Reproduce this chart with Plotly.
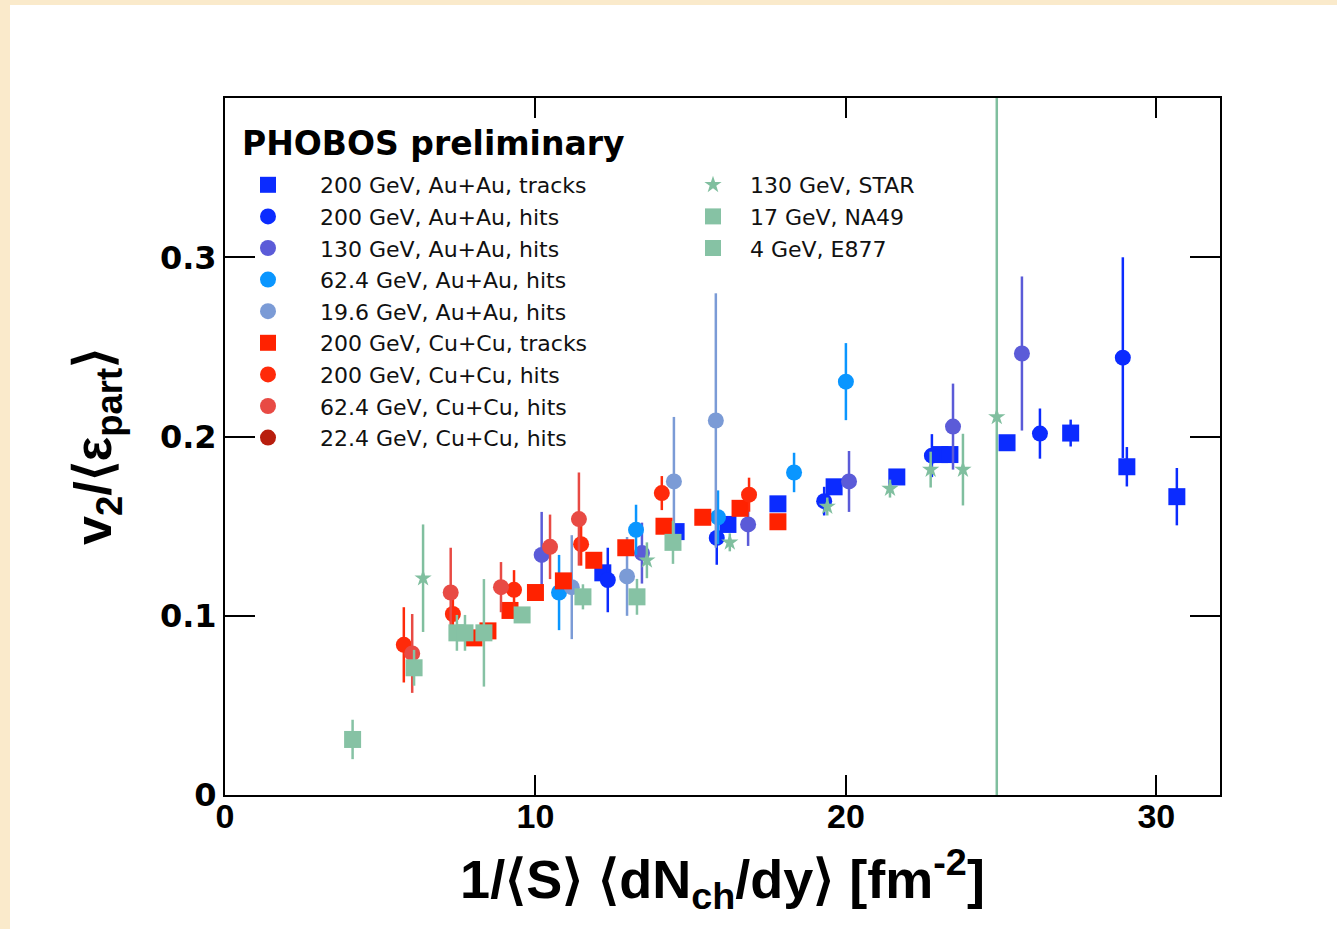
import plotly.graph_objects as go

# ---------------- data ----------------
auau200_trk_x = [12.17, 14.53, 16.20, 17.81, 19.62, 21.64, 23.03, 23.35, 25.19, 27.24, 29.05, 30.66]
auau200_trk_y = [0.124, 0.147, 0.151, 0.1625, 0.172, 0.1775, 0.190, 0.190, 0.1966, 0.202, 0.1832, 0.1665]
auau200_trk_e = [0.004, 0.004, 0.004, 0.004, 0.004, 0.004, 0.004, 0.004, 0.004, 0.0075, 0.011, 0.016]

auau200_hit_x = [12.33, 15.84, 19.30, 22.77, 26.25, 28.92]
auau200_hit_y = [0.120, 0.1435, 0.164, 0.1894, 0.2017, 0.2441]
auau200_hit_e = [0.018, 0.015, 0.008, 0.012, 0.014, 0.056]

auau130_hit_x = [10.20, 13.43, 16.85, 20.10, 23.45, 25.67]
auau130_hit_y = [0.134, 0.135, 0.151, 0.175, 0.2056, 0.2464]
auau130_hit_e = [0.024, 0.017, 0.012, 0.017, 0.024, 0.043]

auau62_hit_x = [10.76, 13.24, 15.88, 18.33, 20.00]
auau62_hit_y = [0.113, 0.148, 0.155, 0.180, 0.2307]
auau62_hit_e = [0.021, 0.014, 0.015, 0.011, 0.0215]

auau19_hit_x = [11.17, 12.95, 14.46, 15.81]
auau19_hit_y = [0.116, 0.122, 0.175, 0.209]
auau19_hit_e = [0.029, 0.022, 0.036, 0.071]

cucu200_trk_x = [8.02, 8.47, 9.18, 10.00, 10.90, 11.88, 12.91, 14.14, 15.39, 16.59, 17.81]
cucu200_trk_y = [0.0877, 0.0916, 0.103, 0.113, 0.1195, 0.131, 0.138, 0.150, 0.155, 0.160, 0.1525]
cucu200_trk_e = [0.004] * 11

cucu200_hit_x = [5.76, 7.34, 9.31, 11.47, 14.07, 16.88]
cucu200_hit_y = [0.0838, 0.101, 0.1145, 0.140, 0.1685, 0.1676]
cucu200_hit_e = [0.021, 0.012, 0.011, 0.012, 0.0095, 0.0095]

cucu62_hit_x = [6.03, 7.27, 8.89, 10.47, 11.40]
cucu62_hit_y = [0.079, 0.113, 0.116, 0.1385, 0.154]
cucu62_hit_e = [0.022, 0.025, 0.014, 0.018, 0.026]

# no visible points for this series in the reference (legend entry only)
cucu22_hit_x = [None]
cucu22_hit_y = [None]
cucu22_hit_e = [0]

star130_x = [6.38, 13.59, 16.26, 19.40, 21.42, 22.73, 23.77, 24.86]
star130_y = [0.121, 0.131, 0.141, 0.161, 0.171, 0.1816, 0.1816, 0.211]
star130_e = [0.030, 0.010, 0.005, 0.005, 0.005, 0.010, 0.020, 0.25]

na49_x = [7.47, 7.73, 8.34, 9.57, 11.53, 13.27, 14.43]
na49_y = [0.0905, 0.0905, 0.0905, 0.1005, 0.1106, 0.1106, 0.141]
na49_e = [0.010, 0.010, 0.030, 0.004, 0.007, 0.010, 0.012]

e877_x = [4.11, 6.09]
e877_y = [0.031, 0.071]
e877_e = [0.011, 0.010]

x_ticks = [0, 10, 20, 30]
x_ticklabels = ["0", "10", "20", "30"]
y_ticks = [0, 0.1, 0.2, 0.3]
y_ticklabels = ["0", "0.1", "0.2", "0.3"]

series = [
    ("200 GeV, Au+Au, tracks", auau200_trk_x, auau200_trk_y, auau200_trk_e, "square", "#0B2BFF", 17, "legend"),
    ("200 GeV, Au+Au, hits", auau200_hit_x, auau200_hit_y, auau200_hit_e, "circle", "#0B2BFF", 16, "legend"),
    ("130 GeV, Au+Au, hits", auau130_hit_x, auau130_hit_y, auau130_hit_e, "circle", "#5B5BD8", 16, "legend"),
    ("62.4 GeV, Au+Au, hits", auau62_hit_x, auau62_hit_y, auau62_hit_e, "circle", "#0A96FF", 16, "legend"),
    ("19.6 GeV, Au+Au, hits", auau19_hit_x, auau19_hit_y, auau19_hit_e, "circle", "#7B9BD6", 16, "legend"),
    ("200 GeV, Cu+Cu, tracks", cucu200_trk_x, cucu200_trk_y, cucu200_trk_e, "square", "#FF2200", 17, "legend"),
    ("200 GeV, Cu+Cu, hits", cucu200_hit_x, cucu200_hit_y, cucu200_hit_e, "circle", "#FF2A0A", 16, "legend"),
    ("62.4 GeV, Cu+Cu, hits", cucu62_hit_x, cucu62_hit_y, cucu62_hit_e, "circle", "#E84A44", 16, "legend"),
    ("22.4 GeV, Cu+Cu, hits", cucu22_hit_x, cucu22_hit_y, cucu22_hit_e, "circle", "#B81E0E", 16, "legend"),
    ("130 GeV, STAR", star130_x, star130_y, star130_e, "star", "#80BF9F", 13, "legend2"),
    ("17 GeV, NA49", na49_x, na49_y, na49_e, "square", "#86C2A4", 17, "legend2"),
    ("4 GeV, E877", e877_x, e877_y, e877_e, "square", "#86C2A4", 17, "legend2"),
]

fig = go.Figure()
for name, xs, ys, es, sym, col, sz, leg in series:
    fig.add_trace(go.Scatter(
        x=xs, y=ys, mode="markers", name=name, legend=leg, showlegend=True,
        marker=dict(symbol=sym, color=col, size=sz, line=dict(width=0)),
        error_y=dict(type="data", array=es, visible=True, color=col, thickness=2.5, width=0),
        cliponaxis=True,
    ))

W, H = 1337, 929
L, R, T, B = 225, 117, 98, 134
pw, ph = W - L - R, H - T - B


def px(xp):
    return (xp - L) / pw


def py(yp):
    return (H - B - yp) / ph


beige = "#FAEACB"
fig.add_shape(type="rect", xref="paper", yref="paper", x0=px(0), x1=px(10), y0=py(H), y1=py(0),
              fillcolor=beige, line=dict(width=0), layer="below")
fig.add_shape(type="rect", xref="paper", yref="paper", x0=px(0), x1=px(W), y0=py(5), y1=py(0),
              fillcolor=beige, line=dict(width=0), layer="below")

fig.add_annotation(text="<b>PHOBOS preliminary</b>", xref="paper", yref="paper",
                   x=px(240), y=py(143), xanchor="left", yanchor="middle", showarrow=False,
                   font=dict(family="DejaVu Sans", size=33, color="black"))

fig.update_layout(
    width=W, height=H,
    margin=dict(l=L, r=R, t=T, b=B, autoexpand=False),
    paper_bgcolor="white", plot_bgcolor="white",
    showlegend=True,
    legend=dict(x=px(216), y=py(164), xanchor="left", yanchor="top", bgcolor="rgba(0,0,0,0)",
                itemwidth=94, font=dict(family="DejaVu Sans", size=22, color="#111"),
                tracegroupgap=0),
    legend2=dict(x=px(676), y=py(164), xanchor="left", yanchor="top", bgcolor="rgba(0,0,0,0)",
                 itemwidth=64, font=dict(family="DejaVu Sans", size=22, color="#111"),
                 tracegroupgap=0),
    xaxis=dict(range=[0, 32.05], tickvals=x_ticks, ticktext=["<b>%s</b>" % t for t in x_ticklabels],
               ticks="inside", ticklen=20, tickwidth=2, ticklabelstandoff=-10,
               tickcolor="black", showline=True, linewidth=2, linecolor="black", mirror="ticks",
               showgrid=False, zeroline=False,
               tickfont=dict(family="Liberation Sans", size=34, color="black"),
               title=dict(text="<b>1/⟨S⟩ ⟨dN<sub>ch</sub>/dy⟩ [fm<sup>-2</sup>]</b>",
                          font=dict(family="Liberation Sans", size=54, color="black"), standoff=26)),
    yaxis=dict(range=[0, 0.389], tickvals=y_ticks, ticktext=["<b>%s</b>" % t for t in y_ticklabels],
               ticks="inside", ticklen=30, tickwidth=2,
               tickcolor="black", showline=True, linewidth=2, linecolor="black", mirror="ticks",
               showgrid=False, zeroline=False,
               tickfont=dict(family="DejaVu Sans", size=32, color="black"),
               title=dict(text="<b>v<sub>2</sub>/⟨ε<sub>part</sub>⟩</b>",
                          font=dict(family="Liberation Sans", size=52, color="black"), standoff=32)),
)

fig.write_html("out.html", config={"displayModeBar": False},
               post_script="document.body.style.margin='0';document.body.style.overflow='hidden';")
